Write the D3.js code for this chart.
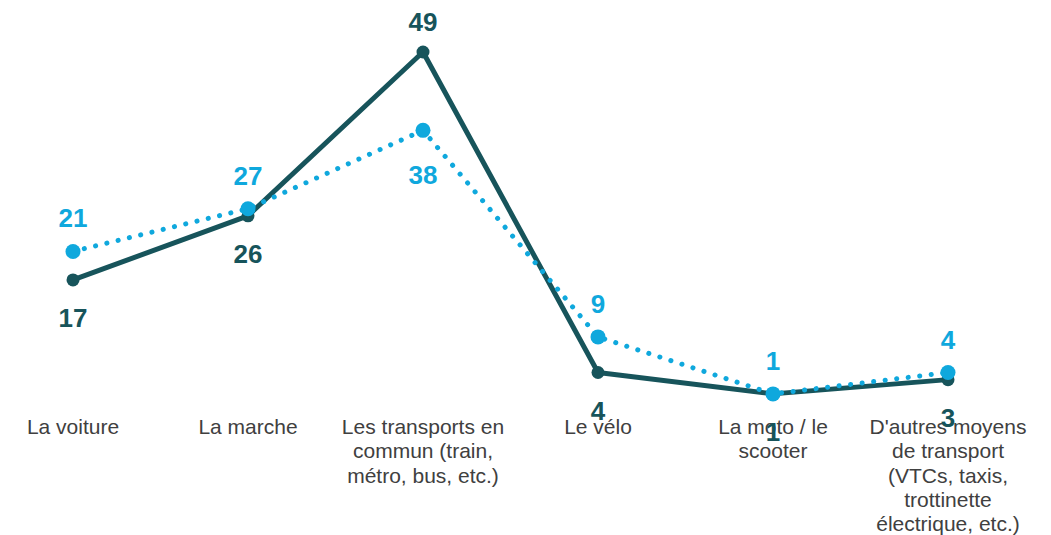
<!DOCTYPE html>
<html>
<head>
<meta charset="utf-8">
<script src="https://cdn.jsdelivr.net/npm/d3@7"></script>
<style>
  body { margin: 0; background: #fff; }
  svg { display: block; font-family: "Liberation Sans", Arial, sans-serif; }
</style>
</head>
<body>
<svg id="chart" width="1051" height="535"></svg>
<script>
// Categories (each entry is the wrapped lines of the axis label)
const categories = [
    ["La voiture"],
    ["La marche"],
    ["Les transports en", "commun (train,", "métro, bus, etc.)"],
    ["Le vélo"],
    ["La moto / le", "scooter"],
    ["D'autres moyens", "de transport", "(VTCs, taxis,", "trottinette", "électrique, etc.)"]
];

// Series values
const darkValues = [17, 26, 49, 4, 1, 3];
const lightValues = [21, 27, 38, 9, 1, 4];

// Label placement: true = above the point
const darkAbove = [false, false, true, false, false, false];
const lightAbove = [true, true, false, true, true, true];

const DARK = "#17545b";
const LIGHT = "#0fa8dd";

const svg = d3.select("#chart");

const x = d3.scalePoint()
    .domain(d3.range(categories.length))
    .range([73, 948]);

const y = d3.scaleLinear()
    .domain([0, 49])
    .range([401, 52]);

const line = d3.line()
    .x((d, i) => x(i))
    .y(d => y(d));

// Category labels
const cat = svg.append("g");
categories.forEach((lines, i) => {
    const t = cat.append("text")
        .attr("x", x(i))
        .attr("y", 434)
        .attr("text-anchor", "middle")
        .attr("fill", "#404040")
        .style("font-size", "21px");
    lines.forEach((l, k) => {
        t.append("tspan")
            .attr("x", x(i))
            .attr("dy", k === 0 ? 0 : 24.3)
            .text(l);
    });
});

// Dark solid series
svg.append("path")
    .datum(darkValues)
    .attr("d", line)
    .attr("fill", "none")
    .attr("stroke", DARK)
    .attr("stroke-width", 5)
    .attr("stroke-linejoin", "round");

svg.selectAll(".dark-dot")
    .data(darkValues)
    .enter().append("circle")
    .attr("class", "dark-dot")
    .attr("cx", (d, i) => x(i))
    .attr("cy", d => y(d))
    .attr("r", 6.5)
    .attr("fill", DARK);

// Light dotted series
svg.append("path")
    .datum(lightValues)
    .attr("d", line)
    .attr("fill", "none")
    .attr("stroke", LIGHT)
    .attr("stroke-width", 5)
    .attr("stroke-linecap", "round")
    .attr("stroke-dasharray", "0.1,11.5");

svg.selectAll(".light-dot")
    .data(lightValues)
    .enter().append("circle")
    .attr("class", "light-dot")
    .attr("cx", (d, i) => x(i))
    .attr("cy", d => y(d))
    .attr("r", 7.5)
    .attr("fill", LIGHT);

// Value labels
svg.selectAll(".dark-label")
    .data(darkValues)
    .enter().append("text")
    .attr("class", "dark-label")
    .attr("x", (d, i) => x(i))
    .attr("y", (d, i) => y(d) + (darkAbove[i] ? -21 : 47))
    .attr("text-anchor", "middle")
    .attr("fill", DARK)
    .style("font-size", "26px")
    .style("font-weight", "bold")
    .text(d => d);

svg.selectAll(".light-label")
    .data(lightValues)
    .enter().append("text")
    .attr("class", "light-label")
    .attr("x", (d, i) => x(i))
    .attr("y", (d, i) => y(d) + (lightAbove[i] ? -24 : 54))
    .attr("text-anchor", "middle")
    .attr("fill", LIGHT)
    .style("font-size", "26px")
    .style("font-weight", "bold")
    .text(d => d);
</script>
</body>
</html>
